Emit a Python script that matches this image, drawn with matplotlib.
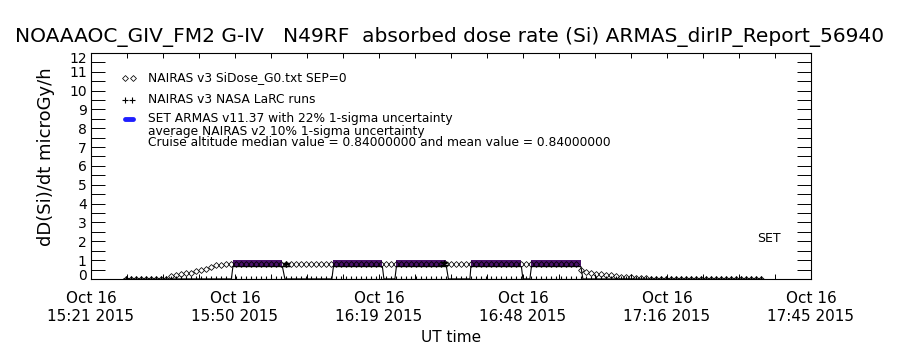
import numpy as np
import matplotlib
matplotlib.use("Agg")
from matplotlib import pyplot as plt
from matplotlib.ticker import MultipleLocator
from matplotlib.transforms import ScaledTranslation

# minutes after 15:21 UT
xtick_labels = ["Oct 16\n15:21 2015", "Oct 16\n15:50 2015", "Oct 16\n16:19 2015",
                "Oct 16\n16:48 2015", "Oct 16\n17:16 2015", "Oct 16\n17:45 2015"]
xtick_pos = [0, 28.8, 57.6, 86.4, 115.2, 144]

# NAIRAS v3 SiDose (1-min samples, starting at minute 7)
nairas_start = 7
nairas_dose = [
    0.0, 0.0, 0.0, 0.0, 0.0, 0.0, 0.0, 0.0, 0.0, 0.15,
    0.22, 0.28, 0.3, 0.32, 0.4, 0.45, 0.55, 0.62, 0.72, 0.74,
    0.77, 0.79, 0.8, 0.8, 0.8, 0.8, 0.8, 0.8, 0.79, 0.79,
    0.78, 0.78, 0.78, 0.78, 0.78, 0.78, 0.78, 0.78, 0.78, 0.78,
    0.78, 0.78, 0.79, 0.8, 0.8, 0.8, 0.8, 0.8, 0.8, 0.8,
    0.8, 0.8, 0.79, 0.79, 0.79, 0.79, 0.79, 0.79, 0.79, 0.79,
    0.8, 0.8, 0.8, 0.8, 0.8, 0.8, 0.8, 0.8, 0.8, 0.8,
    0.79, 0.79, 0.79, 0.79, 0.79, 0.79, 0.79, 0.79, 0.79, 0.79,
    0.8, 0.8, 0.8, 0.8, 0.8, 0.8, 0.8, 0.8, 0.8, 0.8,
    0.8, 0.5, 0.35, 0.3, 0.27, 0.25, 0.22, 0.2, 0.15, 0.12,
    0.1, 0.08, 0.05, 0.04, 0.03, 0.02, 0.0, 0.0, 0.0, 0.0,
    0.0, 0.0, 0.0, 0.0, 0.0, 0.0, 0.0, 0.0, 0.0, 0.0,
    0.0, 0.0, 0.0, 0.0, 0.0, 0.0, 0.0, 0.0,
]

# NAIRAS v3 NASA LaRC runs (all zero on this flight)
larc_start = 7
larc_dose = [0.0] * 128

# SET ARMAS measurements
armas_time = [6.6, 28.1, 28.4, 38.3, 38.8, 48.2, 48.5, 58.3, 58.6, 60.8, 61.1, 71.1,
              71.5, 75.8, 76.0, 86.1, 86.4, 87.8, 88.1, 98.0, 98.4, 134.4]
armas_dose = [0, 0, 0.84, 0.84, 0, 0, 0.84, 0.84, 0, 0, 0.84, 0.84,
              0, 0, 0.84, 0.84, 0, 0, 0.84, 0.84, 0, 0]
armas_sigma = 0.22

# average NAIRAS v2 points with 10% uncertainty
v2_time = [39.0, 70.6]
v2_dose = [0.78, 0.82]
v2_sigma = 0.10

purple = "#4a126b"

fig = plt.figure(figsize=(9, 3.5), dpi=100)
ax = fig.add_axes([0.101, 0.203, 0.8, 0.646])

t_n = nairas_start + np.arange(len(nairas_dose))
t_l = larc_start + np.arange(len(larc_dose))
at = np.array(armas_time)
ad = np.array(armas_dose)
lo = ad * (1 - armas_sigma)
hi = ad * (1 + armas_sigma)

ax.fill_between(at, lo, hi, where=ad > 0, color=purple, lw=0, zorder=2)
ax.plot(at, lo, color="black", lw=0.8, zorder=2)
ax.plot(t_n, nairas_dose, ls="none", marker="D", ms=3.0, mfc="none",
        mec="black", mew=0.55, zorder=3)
ax.plot(t_l, larc_dose, ls="none", marker="+", ms=5, mec="black", mew=0.8, zorder=3)
vd = np.array(v2_dose)
ax.errorbar(v2_time, vd, yerr=vd * v2_sigma, fmt="+", color="black", ms=5,
            capsize=3, elinewidth=1.2, zorder=4)

ax.set_xlim(0, 144)
ax.set_ylim(0, 12)
ax.set_xticks(xtick_pos)
ax.set_xticklabels(xtick_labels, fontsize=11, linespacing=1.25)
ax.xaxis.set_minor_locator(MultipleLocator(7.2))
ax.set_yticks(range(13))
ax.set_yticklabels([str(v) for v in range(13)], fontsize=10)
ax.yaxis.set_minor_locator(MultipleLocator(0.5))
ax.tick_params(axis="y", which="both", direction="in", length=10, width=0.7,
               left=True, right=True, pad=3)
ax.tick_params(axis="x", which="both", direction="in", length=3.6, width=0.7,
               top=True, bottom=True, pad=9)
# end labels nudged inward, as in the original
ylabs = ax.get_yticklabels()
ylabs[0].set_transform(ylabs[0].get_transform()
                       + ScaledTranslation(0, 3 / 72, fig.dpi_scale_trans))
ylabs[-1].set_transform(ylabs[-1].get_transform()
                        + ScaledTranslation(0, -3 / 72, fig.dpi_scale_trans))
for s in ax.spines.values():
    s.set_linewidth(0.8)

ax.set_xlabel("UT time", fontsize=11, labelpad=4)
ax.set_ylabel("dD(Si)/dt microGy/h", fontsize=13)
ax.yaxis.set_label_coords(-0.05, 0.54)

fig.text(0.5, 0.893, "NOAAAOC_GIV_FM2 G-IV   N49RF  absorbed dose rate (Si) ARMAS_dirIP_Report_56940",
         ha="center", va="center", fontsize=14.5)

# legend drawn IDL-style
tr = ax.transAxes
ax.plot([0.047, 0.058], [0.89, 0.89], ls="none", marker="D", ms=3.0, mfc="none",
        mec="black", mew=0.55, transform=tr, clip_on=False)
ax.plot([0.048, 0.057], [0.793, 0.793], ls="none", marker="+", ms=5, mec="black",
        mew=0.8, transform=tr, clip_on=False)
ax.plot([0.047, 0.058], [0.709, 0.709], color="#1f1fff", lw=3.5, solid_capstyle="round",
        transform=tr, clip_on=False)
fs = 8.8
ax.text(0.079, 0.89, "NAIRAS v3 SiDose_G0.txt SEP=0", transform=tr, fontsize=fs, va="center")
ax.text(0.079, 0.793, "NAIRAS v3 NASA LaRC runs", transform=tr, fontsize=fs, va="center")
ax.text(0.079, 0.709, "SET ARMAS v11.37 with 22% 1-sigma uncertainty", transform=tr,
        fontsize=fs, va="center")
ax.text(0.079, 0.652, "average NAIRAS v2 10% 1-sigma uncertainty", transform=tr,
        fontsize=fs, va="center")
ax.text(0.079, 0.602, "Cruise altitude median value = 0.84000000 and mean value = 0.84000000",
        transform=tr, fontsize=fs, va="center")
ax.text(0.925, 0.18, "SET", transform=tr, fontsize=9, va="center")

fig.savefig("out.png", dpi=100)
